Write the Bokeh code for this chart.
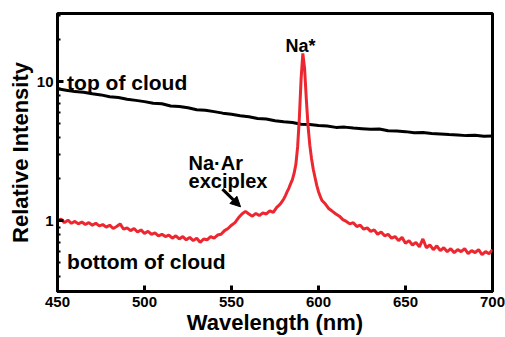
from bokeh.plotting import figure
from bokeh.models import Range1d, FixedTicker, Label, Arrow, NormalHead
from bokeh.embed import file_html
from bokeh.resources import INLINE

# ---- data ----
wl_top = [450, 455, 460, 465, 470, 475, 480, 485, 490, 495, 500, 505, 510, 515, 520,
          525, 530, 535, 540, 545, 550, 555, 560, 565, 570, 575, 580, 585, 590, 595,
          600, 605, 610, 615, 620, 625, 630, 635, 640, 645, 650, 655, 660, 665, 670,
          675, 680, 685, 690, 695, 700]
int_top = [8.9, 8.7, 8.5, 8.4, 8.2, 8.05, 7.8, 7.7, 7.5, 7.35, 7.2, 7.0, 6.95, 6.7, 6.65,
           6.5, 6.3, 6.25, 6.1, 5.95, 5.85, 5.7, 5.6, 5.45, 5.4, 5.25, 5.15, 5.1, 4.95, 4.92,
           4.85, 4.8, 4.7, 4.72, 4.65, 4.6, 4.55, 4.58, 4.45, 4.42, 4.38, 4.3, 4.32, 4.25, 4.22,
           4.18, 4.15, 4.1, 4.12, 4.05, 4.08]

wl_bottom = [450, 452, 454, 456, 458, 460, 462, 464, 466, 468, 470, 472, 474, 476, 478,
             480, 482, 484, 486, 488, 490, 492, 494, 496, 498, 500, 502, 504, 506, 508,
             510, 512, 514, 516, 518, 520, 522, 524, 526, 528, 530, 532, 534, 536, 538,
             540, 542, 544, 546, 548, 550, 552, 554, 556, 558, 560, 562, 564, 566, 568,
             570, 572, 574, 576, 578, 580,
             581, 582, 583, 584, 585, 586, 587, 588, 589, 590, 591, 592, 593, 594, 595,
             596, 597, 598, 599, 600, 601, 602,
             604, 606, 608, 610, 612, 614, 616, 618, 620, 622, 624, 626, 628, 630, 632,
             634, 636, 638, 640, 642, 644, 646, 648, 650, 652, 654, 656, 658, 660, 662,
             664, 666, 668, 670, 672, 674, 676, 678, 680, 682, 684, 686, 688, 690, 692,
             694, 696, 698, 700]
int_bottom = [1.00, 1.03, 0.97, 1.01, 0.96, 0.99, 0.95, 0.98, 0.94, 0.97, 0.93, 0.96, 0.92, 0.94, 0.90,
              0.93, 0.88, 0.91, 0.95, 0.87, 0.89, 0.85, 0.88, 0.83, 0.86, 0.81, 0.84, 0.80, 0.82, 0.78,
              0.80, 0.77, 0.79, 0.75, 0.78, 0.74, 0.77, 0.73, 0.76, 0.72, 0.75, 0.70, 0.74, 0.73, 0.77,
              0.75, 0.79, 0.80, 0.85, 0.88, 0.93, 0.97, 1.05, 1.12, 1.17, 1.12, 1.08, 1.13, 1.09, 1.14,
              1.12, 1.18, 1.15, 1.25, 1.32, 1.43,
              1.52, 1.62, 1.72, 1.85, 1.98, 2.2, 2.55, 3.4, 5.5, 10.5, 16.0, 12.5, 7.5, 4.8, 3.5,
              2.8, 2.35, 2.05, 1.8, 1.62, 1.5, 1.4,
              1.32, 1.22, 1.17, 1.12, 1.08, 1.02, 0.99, 0.95, 0.97, 0.91, 0.93, 0.87, 0.89, 0.84, 0.86,
              0.80, 0.83, 0.78, 0.80, 0.75, 0.77, 0.72, 0.76, 0.69, 0.72, 0.67, 0.70, 0.65, 0.74, 0.64,
              0.67, 0.62, 0.66, 0.61, 0.64, 0.60, 0.63, 0.59, 0.62, 0.60, 0.63, 0.58, 0.61, 0.59, 0.62,
              0.57, 0.60, 0.58, 0.62]

x_ticks = [450, 500, 550, 600, 650, 700]
y_ticks = [1, 10]
y_minor = [0.4, 0.5, 0.6, 0.7, 0.8, 0.9, 2, 3, 4, 5, 6, 7, 8, 9, 20, 30]

FONT = "Liberation Sans"

p = figure(width=505, height=337, output_backend="svg", toolbar_location=None,
           y_axis_type="log", x_range=Range1d(450, 700), y_range=Range1d(0.31, 31),
           min_border_left=57, min_border_right=13, min_border_top=13, min_border_bottom=45)

p.grid.visible = False
p.outline_line_color = "black"
p.outline_line_width = 3
p.background_fill_color = "white"
p.border_fill_color = "white"

p.line(wl_top, int_top, line_color="black", line_width=3)
p.line(wl_bottom, int_bottom, line_color="#ec2730", line_width=3)

# axes
p.xaxis.ticker = FixedTicker(ticks=x_ticks)
p.yaxis.ticker = FixedTicker(ticks=y_ticks, minor_ticks=y_minor)
p.yaxis.major_label_overrides = {1: "1", 10: "10"}
for ax in (p.xaxis[0], p.yaxis[0]):
    ax.axis_line_width = 3
    ax.axis_line_color = "black"
    ax.major_tick_in = 6
    ax.major_tick_out = 0
    ax.major_tick_line_width = 3
    ax.minor_tick_in = 3
    ax.minor_tick_out = 0
    ax.minor_tick_line_width = 2
    ax.major_label_text_font = FONT
    ax.major_label_text_font_style = "bold"
    ax.major_label_text_font_size = "15px"
    ax.major_label_text_color = "black"
    ax.axis_label_text_font = FONT
    ax.axis_label_text_font_style = "bold"
    ax.axis_label_text_color = "black"

p.xaxis.axis_label = "Wavelength (nm)"
p.xaxis.axis_label_text_font_size = "22px"
p.xaxis.major_label_standoff = 5
p.xaxis.axis_label_standoff = 0
p.yaxis.axis_label = "Relative Intensity"
p.yaxis.axis_label_text_font_size = "22px"
p.yaxis.major_label_standoff = 4
p.yaxis.axis_label_standoff = 1

def lab(x, y, t, size="21px", align="left"):
    p.add_layout(Label(x=x, y=y, text=t, text_font=FONT, text_font_style="bold",
                       text_font_size=size, text_align=align,
                       text_baseline="alphabetic", text_color="black"))

lab(455.5, 9.9, "top of cloud")
lab(455.5, 0.51, "bottom of cloud")
lab(525.3, 2.62, "Na\u00b7Ar", size="20px")
lab(525.3, 1.92, "exciplex", size="20px")
lab(589.7, 18.0, "Na*", size="18px", align="center")

p.add_layout(Arrow(end=NormalHead(size=10, fill_color="black", line_color="black"),
                   x_start=544.8, y_start=1.69, x_end=555.2, y_end=1.26,
                   line_color="black", line_width=3))

open("out.html", "w").write(file_html(p, INLINE))
